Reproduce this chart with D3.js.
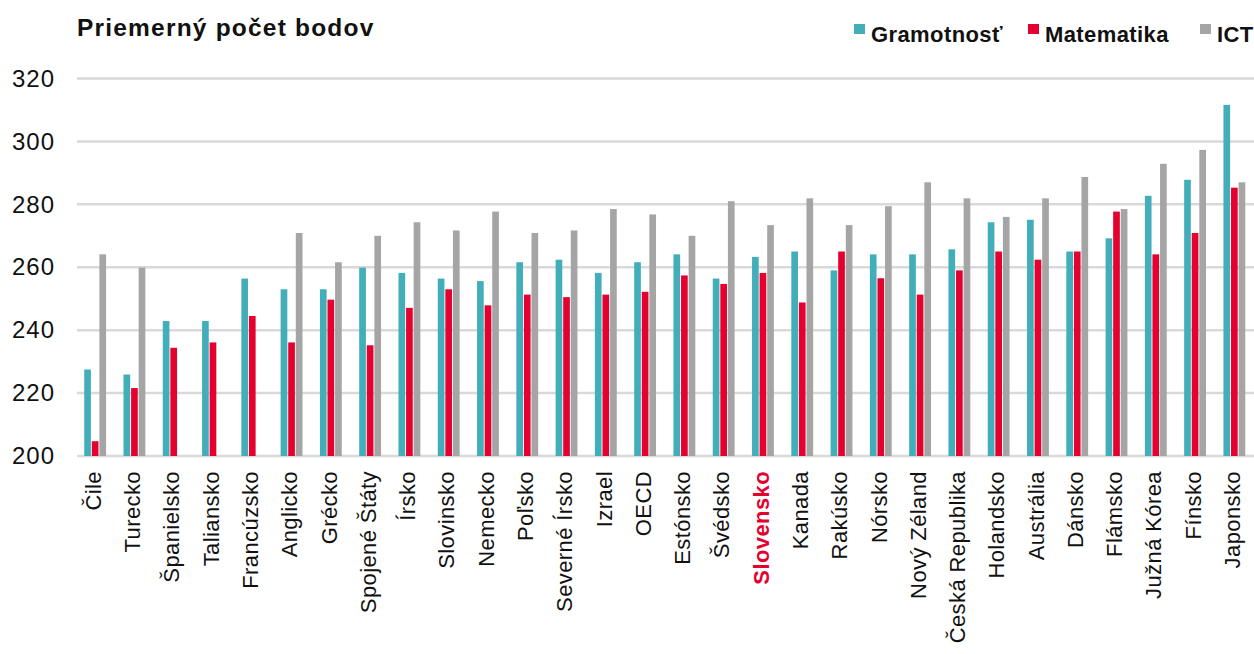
<!DOCTYPE html>
<html>
<head>
<meta charset="utf-8">
<script src="https://cdn.jsdelivr.net/npm/d3@7"></script>
<style>
  html, body { margin: 0; padding: 0; background: #fff; }
  svg { display: block; font-family: "Liberation Sans", Arial, sans-serif; }
</style>
</head>
<body>
<svg id="chart" width="1254" height="654"></svg>
<script>
// Countries, ordered as in the chart
const categories = ["Čile","Turecko","Španielsko","Taliansko","Francúzsko","Anglicko","Grécko",
  "Spojené Štáty","Írsko","Slovinsko","Nemecko","Poľsko","Severné Írsko","Izrael","OECD",
  "Estónsko","Švédsko","Slovensko","Kanada","Rakúsko","Nórsko","Nový Zéland","Česká Republika",
  "Holandsko","Austrália","Dánsko","Flámsko","Južná Kórea","Fínsko","Japonsko"];

// Average scores per skill (null = not assessed)
const gramotnost = [227.5,225.9,242.9,242.9,256.4,253.0,253.0,259.9,258.2,256.4,255.6,261.6,262.4,258.2,261.6,
  264.1,256.4,263.3,265.0,259.0,264.1,264.1,265.7,274.3,275.1,265.0,269.2,282.7,287.8,311.6];
const matematika = [204.7,221.6,234.4,236.1,244.5,236.1,249.7,235.2,247.1,253.0,247.9,251.3,250.5,251.3,252.2,
  257.4,254.7,258.2,248.8,265.0,256.5,251.3,259.0,265.0,262.4,265.0,277.7,264.1,270.9,285.3];
const ict = [264.1,259.9,null,null,null,270.9,261.6,270.0,274.3,271.7,277.7,270.9,271.7,278.5,276.8,
  270.0,281.0,273.4,281.9,273.4,279.4,287.0,281.9,276.0,281.9,288.7,278.5,292.9,297.3,287.0];

const seriesNames = ["Gramotnosť","Matematika","ICT"];
const seriesColors = ["#41AEB9","#E4002F","#A5A5A5"];
const yTicks = [200,220,240,260,280,300,320];
const highlight = "Slovensko";

const svg = d3.select("#chart");
const W = 1254;
const plotLeft = 77;

const x = d3.scaleBand().domain(categories).range([plotLeft - 1.5, W]).paddingInner(0).paddingOuter(0);
const y = d3.scaleLinear().domain([200,320]).range([456, 78.5]);
const xs = d3.scaleBand().domain(seriesNames).range([0, x.bandwidth()]).paddingInner(0.12).paddingOuter(1.15);

// Gridlines
svg.append("g").selectAll("line").data(yTicks).join("line")
  .attr("x1", plotLeft).attr("x2", W)
  .attr("y1", d => y(d)).attr("y2", d => y(d))
  .attr("stroke", "#D9D9D9").attr("stroke-width", 2.5);

// Y axis labels
const yAxis = d3.axisLeft(y).tickValues(yTicks).tickSize(0).tickPadding(0).tickFormat(d3.format("d"));
svg.append("g").attr("transform", `translate(55,0)`).call(yAxis)
  .call(g => g.select(".domain").remove())
  .call(g => g.selectAll("text").attr("font-size", 24).attr("letter-spacing", 1).attr("fill", "#111")
    .attr("font-family", "Liberation Sans, Arial, sans-serif"));

// Bars
const data = [gramotnost, matematika, ict];
const groups = svg.append("g").selectAll("g").data(categories).join("g")
  .attr("transform", d => `translate(${x(d)},0)`);
groups.selectAll("rect")
  .data((d, i) => seriesNames.map((s, k) => ({s, k, v: data[k][i]})).filter(e => e.v != null))
  .join("rect")
  .attr("x", e => xs(e.s))
  .attr("width", xs.bandwidth())
  .attr("y", e => y(e.v))
  .attr("height", e => y(200) - y(e.v))
  .attr("fill", e => seriesColors[e.k]);

// Category labels, rotated
const xAxis = d3.axisBottom(x).tickSize(0).tickPadding(0);
svg.append("g").attr("transform", `translate(-2,471)`).call(xAxis)
  .call(g => g.select(".domain").remove())
  .call(g => g.selectAll("text")
    .attr("transform", "rotate(-90)")
    .attr("text-anchor", "end")
    .attr("x", 0).attr("y", 0).attr("dy", "0.35em")
    .attr("font-size", 22)
    .attr("letter-spacing", 0.4)
    .attr("font-family", "Liberation Sans, Arial, sans-serif")
    .attr("font-weight", d => d === highlight ? "bold" : "normal")
    .attr("fill", d => d === highlight ? "#E4002F" : "#111"));

// Title
svg.append("text").attr("x", 77).attr("y", 36)
  .attr("font-size", 24.5).attr("font-weight", "bold").attr("letter-spacing", 1.2).attr("fill", "#111")
  .text("Priemerný počet bodov");

// Legend
const legendX = [854, 1028, 1200];
const legend = svg.append("g").selectAll("g").data(seriesNames).join("g")
  .attr("transform", (d, i) => `translate(${legendX[i]},0)`);
legend.append("rect").attr("x", 0).attr("y", 24).attr("width", 11).attr("height", 10)
  .attr("fill", (d, i) => seriesColors[i]);
legend.append("text").attr("x", 17).attr("y", 41.5)
  .attr("font-size", 22).attr("font-weight", "bold").attr("letter-spacing", 0.4).attr("fill", "#111")
  .text(d => d);
</script>
</body>
</html>
